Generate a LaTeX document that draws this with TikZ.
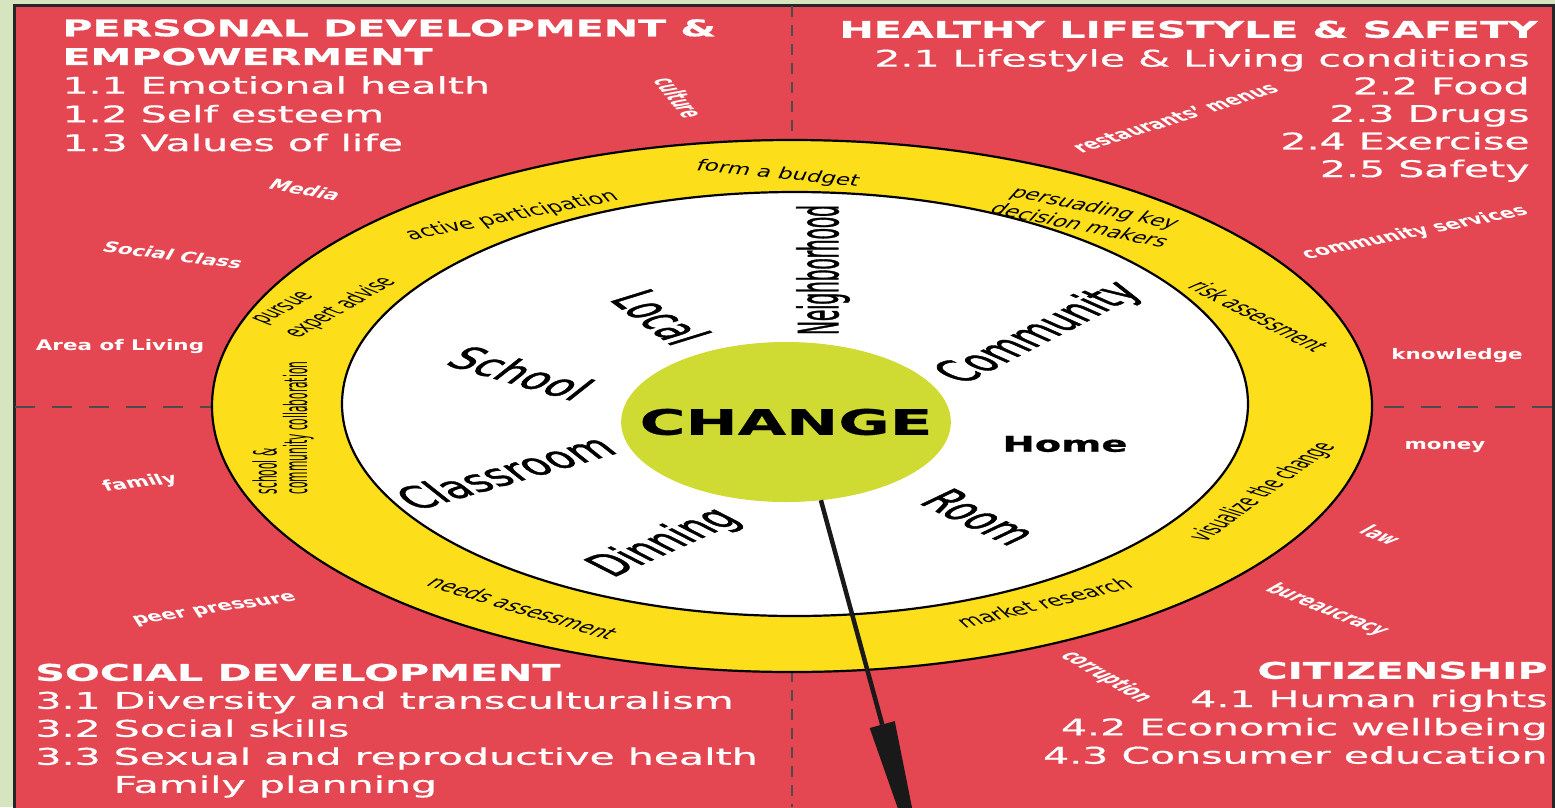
\documentclass[tikz,border=0pt]{standalone}
\usepackage{fontspec}
\setmainfont{DejaVu Sans}
\newfontfamily\blockfont[FakeStretch=0.85, FakeBold=0.5]{DejaVu Sans}
\newfontfamily\narrowfont[FakeStretch=0.7]{DejaVu Sans}
\newfontfamily\placefont[FakeStretch=0.7, FakeBold=1.2]{DejaVu Sans}
\usepackage{xcolor}
\usetikzlibrary{arrows.meta,positioning,shapes.geometric}

\definecolor{framegreen}{RGB}{214,228,192}
\definecolor{quadred}{RGB}{228,70,82}
\definecolor{ringyellow}{RGB}{253,222,26}
\definecolor{changegreen}{RGB}{207,219,50}

\begin{document}
\begin{tikzpicture}[x=1pt, y=-1pt, >=Latex]
  % Styles
  \tikzstyle{block}=[text=white, inner sep=0pt, xscale=2.1, font=\blockfont\fontsize{23}{28.7}\selectfont]
  \tikzstyle{outerword}=[text=white, inner sep=0pt, xscale=2.1, font=\narrowfont\bfseries\fontsize{14.6}{16}\selectfont]
  \tikzstyle{ringword}=[inner sep=0pt, xscale=2.1, align=center, font=\narrowfont\fontsize{15.8}{18}\selectfont]
  \tikzstyle{placeword}=[inner sep=0pt, xscale=2.1, font=\placefont\fontsize{31}{33}\selectfont]
  \tikzstyle{divider}=[black!70, line width=1.8pt]
  \tikzstyle{ringedge}=[draw=black, line width=2.2pt]
  \tikzstyle{pointer}=[line width=4.5pt, black!90, -{Triangle[length=185pt, width=26pt, line width=0pt]}]

  \useasboundingbox (0,0) rectangle (1555,807);
  \clip (0,0) rectangle (1555,807);

  % Frame and quadrants
  \fill[framegreen] (0,0) rectangle (1555,807);
  \fill[quadred] (14,5) rectangle (1553,815);
  \draw[black!85, line width=3pt] (14,815) -- (14,5) -- (1553,5) -- (1553,815);
  \draw[divider, dash pattern=on 11pt off 8pt] (792,6) -- (792,807);
  \draw[divider, dash pattern=on 20pt off 17pt] (15,407) -- (1552,407);

  % Rings
  \draw[ringedge, fill=ringyellow] (792,406) ellipse [x radius=580pt, y radius=266pt];
  \draw[ringedge, fill=white] (795,404) ellipse [x radius=453pt, y radius=212pt];

  % Centre
  \node[ellipse, fill=changegreen, inner ysep=0pt, inner xsep=-15pt, outer sep=0pt,
        minimum width=157pt, minimum height=160pt, xscale=2.1,
        font=\blockfont\bfseries\fontsize{35}{35}\selectfont] (change) at (786,422) {CHANGE};

  % Quadrant titles
  \node[block, anchor=north west, align=left] (personal) at (62,19)
    {\textbf{PERSONAL DEVELOPMENT \&}\\ \textbf{EMPOWERMENT}\\ 1.1 Emotional health\\ 1.2 Self esteem\\ 1.3 Values of life};
  \node[block, anchor=north west, font=\blockfont\bfseries\fontsize{23}{28.7}\selectfont] (healthy) at (839,20.5)
    {HEALTHY LIFESTYLE \& SAFETY};
  \node[block, anchor=north east, align=right, font=\blockfont\fontsize{23}{27.6}\selectfont] (healthyitems) at (1530,49)
    {2.1 Lifestyle \& Living conditions\\ 2.2 Food\\ 2.3 Drugs\\ 2.4 Exercise\\ 2.5 Safety};
  \node[block, anchor=north west, align=left, font=\blockfont\fontsize{23}{28}\selectfont] (social) at (35,663.5)
    {\textbf{SOCIAL DEVELOPMENT}\\ 3.1 Diversity and transculturalism\\ 3.2 Social skills\\ 3.3 Sexual and reproductive health\\ \hphantom{3.3 }Family planning};
  \node[block, anchor=north east, align=right, font=\blockfont\fontsize{23}{28.3}\selectfont] (citizen) at (1548,661.5)
    {\textbf{CITIZENSHIP}\\ 4.1 Human rights\\ 4.2 Economic wellbeing\\ 4.3 Consumer education};

  % Outer words
  \node[outerword, rotate=-69] (culture) at (679,98) {culture};
  \node[outerword, rotate=-21] (media) at (305,190) {Media};
  \node[outerword, rotate=-15] (socialclass) at (173,255) {Social Class};
  \node[outerword] (arealiving) at (120,347) {Area of Living};
  \node[outerword, rotate=14] (family) at (140,483) {family};
  \node[outerword, rotate=17] (peer) at (215,610) {peer pressure};
  \node[outerword, rotate=33] (menus) at (1175,118) {restaurants’ menus};
  \node[outerword, rotate=23] (services) at (1415,233) {community services};
  \node[outerword] (knowledge) at (1457,356) {knowledge};
  \node[outerword] (money) at (1445,447) {money};
  \node[outerword, rotate=-40] (law) at (1381,535) {law};
  \node[outerword, rotate=-40] (bureaucracy) at (1327,610) {bureaucracy};
  \node[outerword, rotate=-51] (corruption) at (1106,677) {corruption};

  % Ring words
  \node[ringword, rotate=-12] (budget) at (778,174) {form a budget};
  \node[ringword, rotate=22] (participation) at (512,216) {active participation};
  \node[ringword, rotate=-23, font=\narrowfont\fontsize{15.8}{19}\selectfont] (persuading) at (1088,216) {persuading key\\decision makers};
  \node[ringword, rotate=50, align=left, font=\narrowfont\fontsize{15.3}{21}\selectfont] (expert) at (326,302) {pursue\\expert advise};
  \node[ringword, rotate=-47] (risk) at (1259,316) {risk assessment};
  \node[ringword, rotate=90, align=left, font=\narrowfont\fontsize{15.2}{14.5}\selectfont] (collab) at (283,428)
    {school \&\\community collaboration};
  \node[ringword, rotate=57] (visualize) at (1263,492) {visualize the change};
  \node[ringword, rotate=-32] (needs) at (523,608) {needs assessment};
  \node[ringword, rotate=27] (market) at (1044,603) {market research};

  % Place words
  \node[placeword, rotate=90, font=\placefont\fontsize{26.3}{28}\selectfont] (neighborhood) at (823,270) {Neighborhood};
  \node[placeword, rotate=-57] (local) at (661,317) {Local};
  \node[placeword, rotate=47] (community) at (1040,333) {Community};
  \node[placeword, rotate=-31] (school) at (521,373) {School};
  \node[placeword, rotate=31] (classroom) at (505,472) {Classroom};
  \node[placeword, font=\blockfont\bfseries\fontsize{21.6}{23}\selectfont] (home) at (1065,444) {Home};
  \node[placeword, rotate=43] (dinning) at (665,543) {Dinning};
  \node[placeword, rotate=-45] (room) at (980,517) {Room};

  % Arrow
  \coordinate (arrowtip) at (931,903);
  \draw[pointer] (change.-78) -- (arrowtip);
\end{tikzpicture}
\end{document}
